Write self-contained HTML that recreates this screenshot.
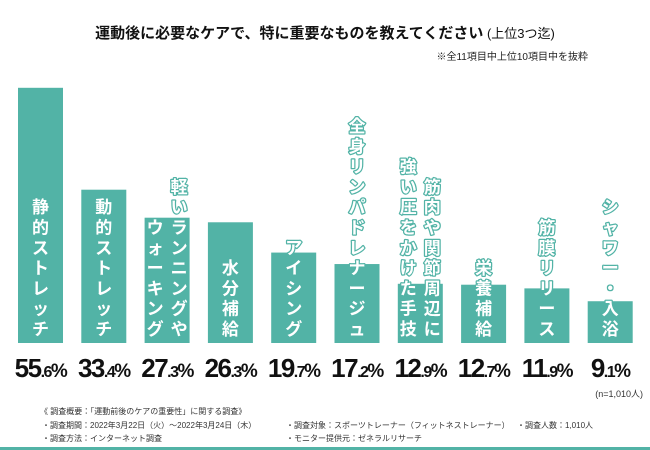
<!DOCTYPE html>
<html><head><meta charset="utf-8"><style>
body{margin:0;background:#fff;}
svg{display:block;font-family:"Liberation Sans","Noto Sans CJK JP",sans-serif;}
</style></head><body>
<svg id="chart" width="650" height="450" viewBox="0 0 650 450">
<text x="325" y="38" text-anchor="middle" font-size="15" font-weight="bold" fill="#111">運動後に必要なケアで、特に重要なものを教えてください<tspan font-size="13" font-weight="normal"> (上位3つ迄)</tspan></text>
<text x="588" y="60" text-anchor="end" font-size="10" fill="#222">※全11項目中上位10項目中を抜粋</text>
<g id="bars"></g>
<text x="643" y="397" text-anchor="end" font-size="9" fill="#333">(n=1,010人)</text>
<g font-size="8" fill="#333">
<text x="40" y="414">《 調査概要：「運動前後のケアの重要性」に関する調査》</text>
<text x="42" y="428">・調査期間：2022年3月22日（火）～2022年3月24日（木）</text>
<text x="42" y="441">・調査方法：インターネット調査</text>
<text x="286" y="428">・調査対象：スポーツトレーナー（フィットネストレーナー）</text>
<text x="286" y="441">・モニター提供元：ゼネラルリサーチ</text>
<text x="517" y="428">・調査人数：1,010人</text>
</g>
<rect x="0" y="447" width="650" height="3" fill="#52b3a6"/>
</svg>
<script>
const categories=["静的ストレッチ","動的ストレッチ","軽いランニングやウォーキング","水分補給","アイシング","全身リンパドレナージュ","筋肉や関節周辺に強い圧をかけた手技","栄養補給","筋膜リリース","シャワー・入浴"];
const labelCols=[["静的ストレッチ"],["動的ストレッチ"],["軽いランニングや","ウォーキング"],["水分補給"],["アイシング"],["全身リンパドレナージュ"],["筋肉や関節周辺に","強い圧をかけた手技"],["栄養補給"],["筋膜リリース"],["シャワー・入浴"]];
const values=[55.6,33.4,27.3,26.3,19.7,17.2,12.9,12.7,11.9,9.1];
const NS="http://www.w3.org/2000/svg";
const g=document.getElementById('bars');
const base=343,scale=4.59,x0=18,step=63.3,bw=45,color="#52b3a6";
const xs=i=>x0+i*step;
const ys=v=>base-v*scale;
function mk(t,a){const e=document.createElementNS(NS,t);for(const k in a)e.setAttribute(k,a[k]);return e;}
values.forEach((v,i)=>{
  const r=mk('rect',{x:xs(i),y:ys(v),width:bw,height:base-ys(v),fill:color});
  
  
  g.appendChild(r);
  const cols=labelCols[i];const cx=xs(i)+bw/2;
  cols.forEach((col,ci)=>{
    const off=cols.length===1?0:(ci===0?12:-12);
    const chars=[...col];
    chars.forEach((ch,k)=>{
      const y=335-(chars.length-1-k)*20.3;
      const t=mk('text',{x:cx+off,y:y,'text-anchor':'middle','font-size':17,'font-weight':'bold',fill:'#fff',stroke:color,'stroke-width':2.5,'paint-order':'stroke','stroke-linejoin':'round'});
      t.textContent=ch;
      
      
      g.appendChild(t);
    });
  });
  const s=v.toFixed(1).split('.');
  const vt=mk('text',{x:cx,y:377,'text-anchor':'middle','font-weight':'bold',fill:'#111','font-size':26,'letter-spacing':'-1.5'});
  vt.innerHTML=s[0]+'<tspan font-size="16">.'+s[1]+'</tspan><tspan font-size="19">%</tspan>';
  
  
  g.appendChild(vt);
});
</script>
</body></html>
